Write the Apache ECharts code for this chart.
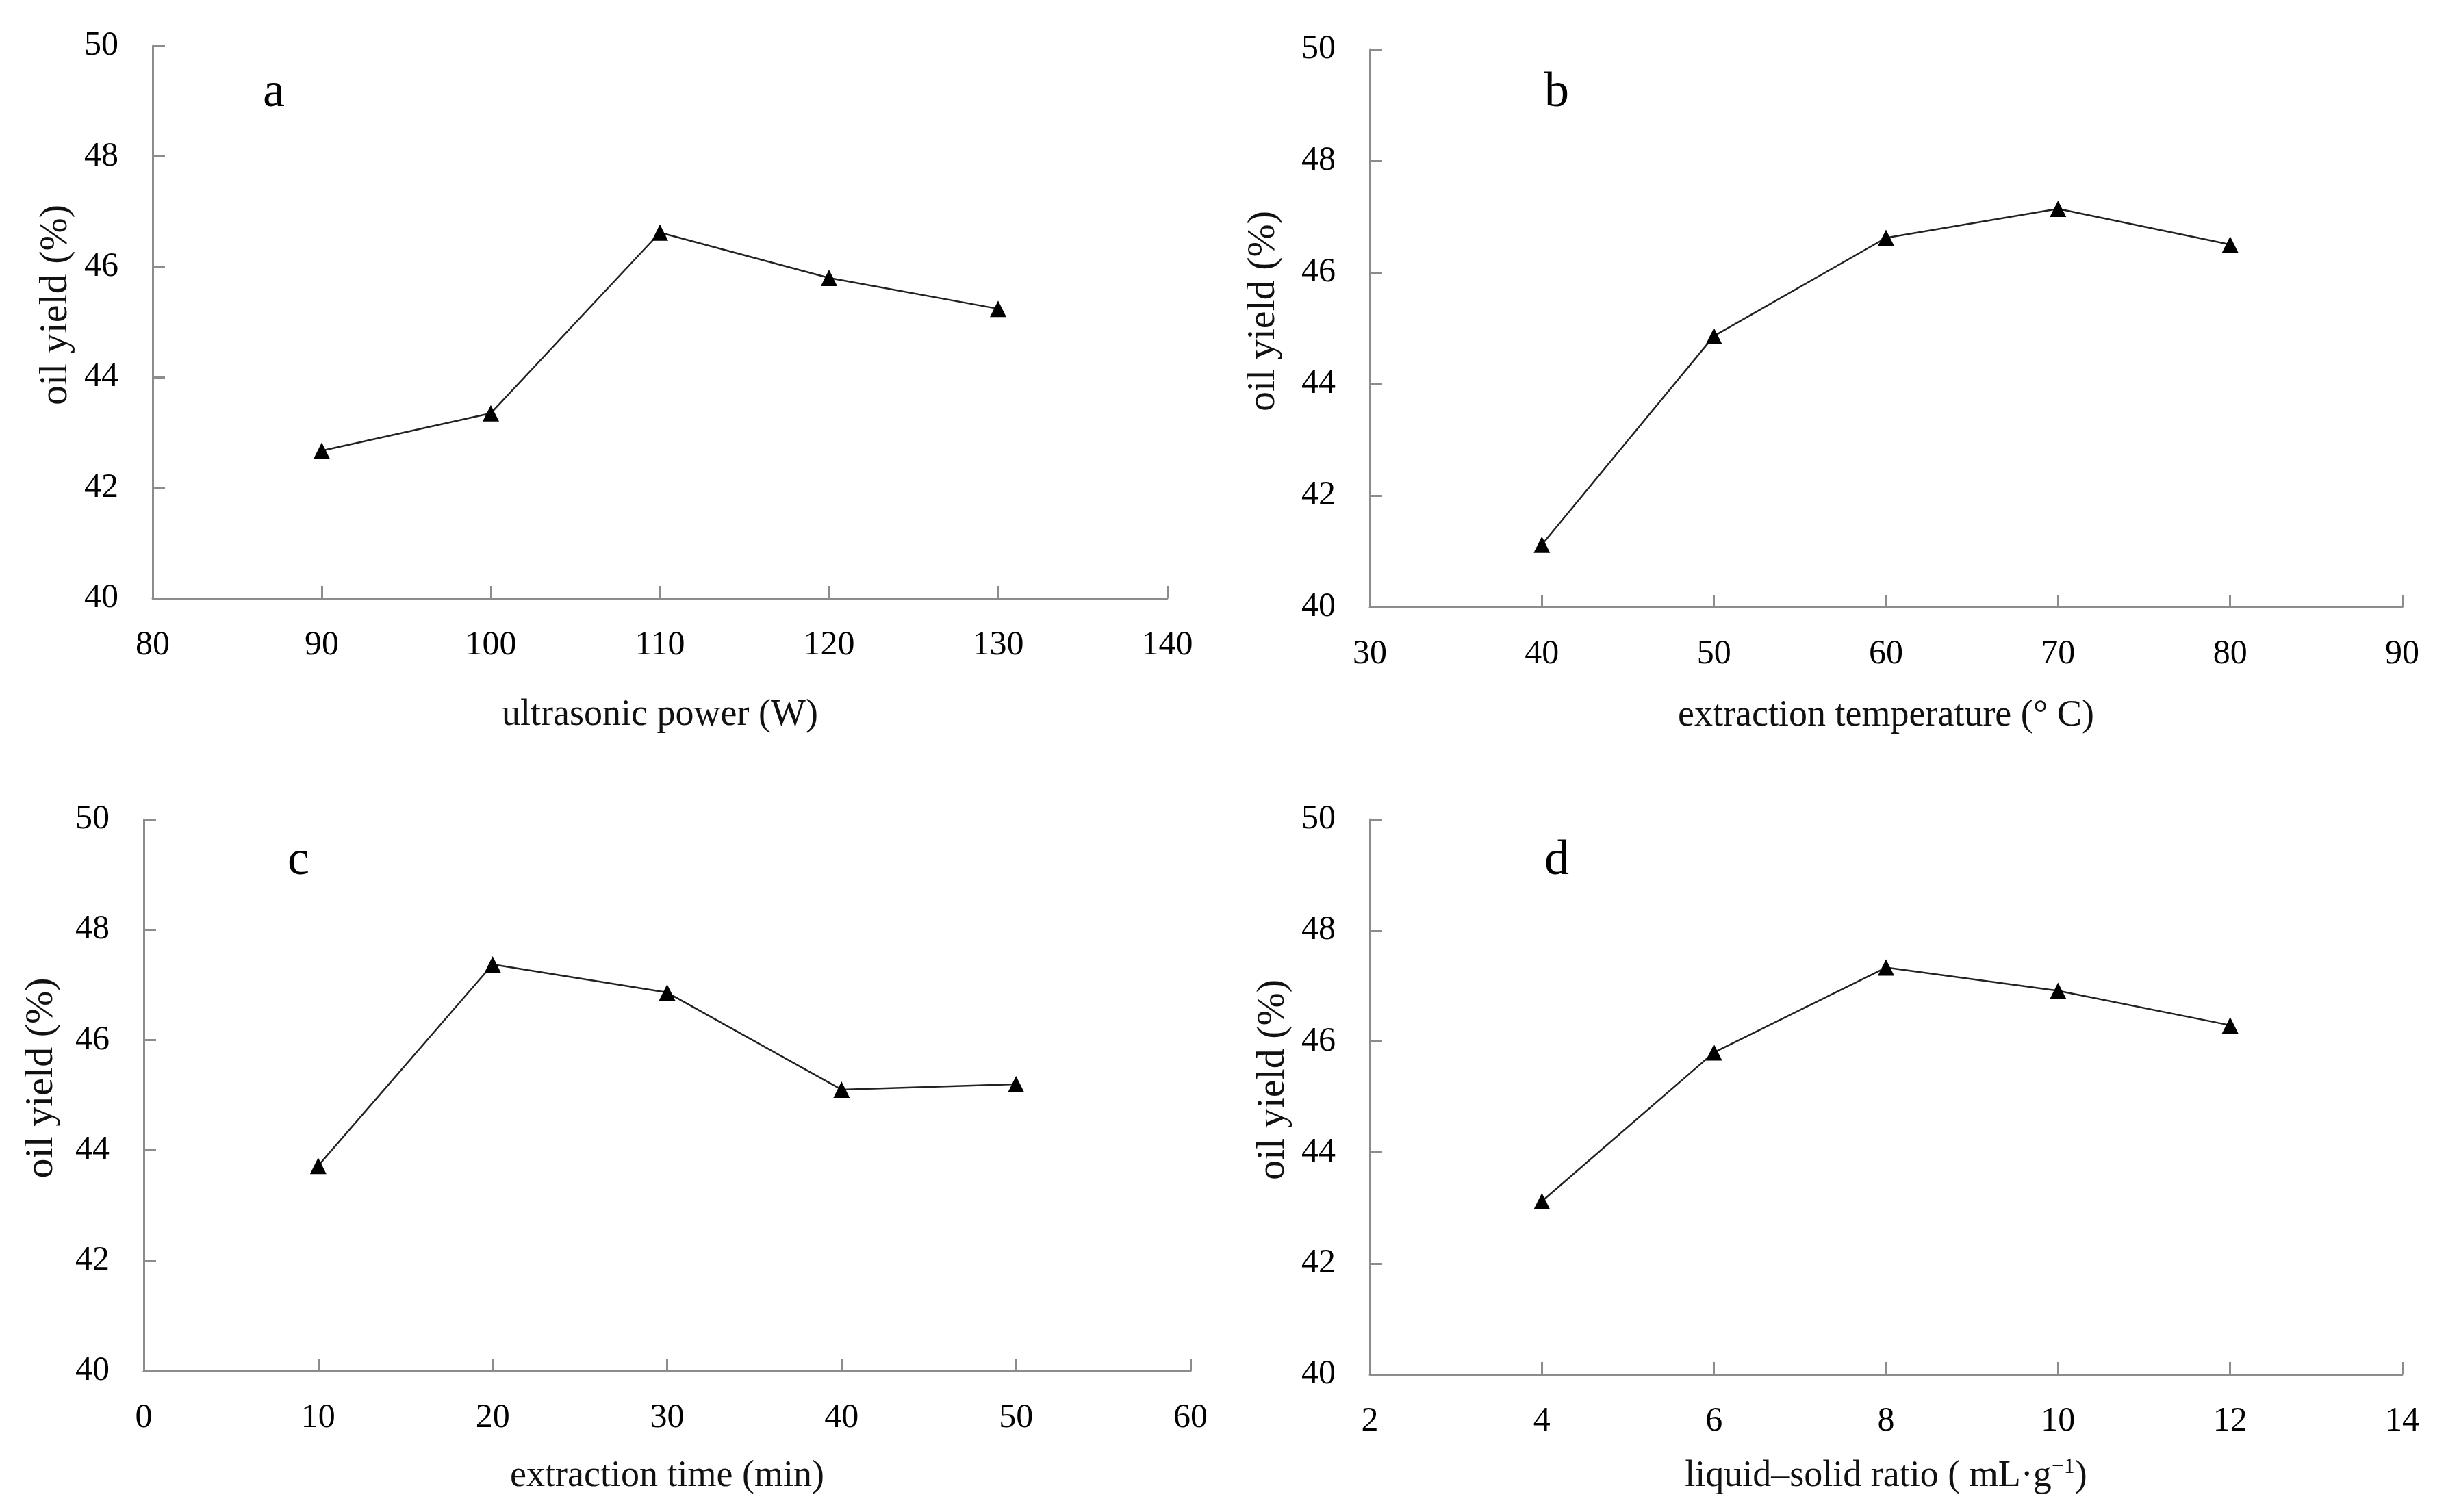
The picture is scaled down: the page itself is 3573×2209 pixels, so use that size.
<!DOCTYPE html>
<html>
<head>
<meta charset="utf-8">
<script src="https://cdn.jsdelivr.net/npm/echarts@6/dist/echarts.min.js"></script>
<style>
  html, body { margin: 0; padding: 0; background: #fff; }
  #chart { width: 3573px; height: 2209px; }
</style>
</head>
<body>
<div id="chart"></div>
<script>
// valores
var powerX = [90, 100, 110, 120, 130];
var powerY = [42.67, 43.35, 46.62, 45.8, 45.24];

var tempX = [40, 50, 60, 70, 80];
var tempY = [41.12, 44.86, 46.62, 47.14, 46.5];

var timeX = [10, 20, 30, 40, 50];
var timeY = [43.72, 47.37, 46.86, 45.1, 45.2];

var ratioX = [4, 6, 8, 10, 12];
var ratioY = [43.12, 45.8, 47.33, 46.91, 46.29];

var yName = 'oil yield (%)';
var xNames = [
  'ultrasonic power (W)',
  'extraction temperature (\u00B0 C)',
  'extraction time (min)',
  'liquid\u2013solid ratio ( mL\u00B7g{sup|\u22121})'
];
var xRanges = [[80, 140, 10], [30, 90, 10], [0, 60, 10], [2, 14, 2]];
var panelLetters = ['a', 'b', 'c', 'd'];

var chart = echarts.init(document.getElementById('chart'));

var font = 'Liberation Serif';
var axisGray = '#8c8c8c';

function pairs(xs, ys) {
  return xs.map(function (x, i) { return [x, ys[i]]; });
}

var grids = [
  { left: 223, top: 67, width: 1482, height: 807 },
  { left: 2001, top: 72, width: 1508, height: 815 },
  { left: 210, top: 1197, width: 1529, height: 806 },
  { left: 2001, top: 1197, width: 1508, height: 811 }
];
var xGaps = [144, 132, 127, 120];
var yGaps = [112, 126, 120, 112];

var xAxes = xRanges.map(function (r, i) {
  return {
    type: 'value', gridIndex: i, min: r[0], max: r[1], interval: r[2],
    name: xNames[i], nameLocation: 'middle', nameGap: xGaps[i],
    nameTextStyle: {
      fontFamily: font, fontSize: 54, color: '#111',
      rich: { sup: { fontFamily: font, fontSize: 32, color: '#111', verticalAlign: 'top', padding: [0, 0, 26, 0] } }
    },
    axisLine: { show: true, lineStyle: { color: axisGray, width: 3 } },
    axisTick: { show: true, inside: true, length: 18, lineStyle: { color: axisGray, width: 3 } },
    axisLabel: { fontFamily: font, fontSize: 50, color: '#000', margin: 44 },
    splitLine: { show: false }
  };
});

var yAxes = grids.map(function (g, i) {
  return {
    type: 'value', gridIndex: i, min: 40, max: 50, interval: 2,
    name: yName, nameLocation: 'middle', nameGap: yGaps[i], nameRotate: 90,
    nameTextStyle: { fontFamily: font, fontSize: 58, color: '#111', padding: [0, 0, 0, 50] },
    axisLine: { show: true, lineStyle: { color: axisGray, width: 3 } },
    axisTick: { show: true, inside: true, length: 18, lineStyle: { color: axisGray, width: 3 } },
    axisLabel: { fontFamily: font, fontSize: 50, color: '#000', margin: 50 },
    splitLine: { show: false }
  };
});

var seriesData = [pairs(powerX, powerY), pairs(tempX, tempY), pairs(timeX, timeY), pairs(ratioX, ratioY)];
var series = seriesData.map(function (d, i) {
  return {
    type: 'line', xAxisIndex: i, yAxisIndex: i, data: d,
    symbol: 'triangle', symbolSize: 24,
    itemStyle: { color: '#000' },
    lineStyle: { color: '#222', width: 2.5 },
    animation: false
  };
});

// letras dos painéis
var letterPos = [[384, 100], [2256, 100], [420, 1222], [2256, 1222]];
var graphic = panelLetters.map(function (t, i) {
  return {
    type: 'text', left: letterPos[i][0], top: letterPos[i][1],
    style: { text: t, font: '72px "Liberation Serif"', fill: '#000' }
  };
});

chart.setOption({
  backgroundColor: '#fff',
  animation: false,
  grid: grids,
  xAxis: xAxes,
  yAxis: yAxes,
  series: series,
  graphic: graphic
});
</script>
</body>
</html>
